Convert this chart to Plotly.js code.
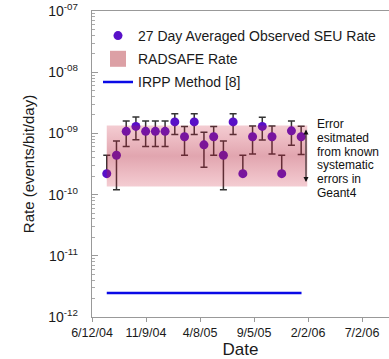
<!DOCTYPE html>
<html>
<head>
<meta charset="utf-8">
<script src="https://cdn.plot.ly/plotly-3.0.1.min.js"></script>
<style>html,body{margin:0;padding:0;background:#fff;}#chart{width:389px;height:359px;}</style>
</head>
<body>
<div id="chart"></div>
<script>
// ---- data ----
const obsDates = ['2004-07-23','2004-08-19','2004-09-15','2004-10-12','2004-11-08','2004-12-05','2005-01-01',
  '2005-01-28','2005-02-24','2005-03-23','2005-04-19','2005-05-16','2005-06-12','2005-07-09','2005-08-05',
  '2005-09-01','2005-09-28','2005-10-25','2005-11-21','2005-12-18','2006-01-14'];
const obsRate = [2.2e-10,4.4e-10,1.08e-9,1.3e-9,1.08e-9,1.08e-9,1.08e-9,1.54e-9,8.8e-10,1.54e-9,6.5e-10,
  8.8e-10,4.4e-10,1.54e-9,2.2e-10,8.8e-10,1.3e-9,8.8e-10,2.2e-10,1.1e-9,8.8e-10];
const obsErrPlus = [2.2e-10,3.1e-10,5.2e-10,5.5e-10,5.2e-10,5.2e-10,5.2e-10,5.6e-10,4.2e-10,5.6e-10,3.9e-10,
  4.2e-10,3.1e-10,5.6e-10,2.2e-10,4.4e-10,5.4e-10,4.4e-10,2.2e-10,5.0e-10,4.3e-10];
const obsErrMinus = [0,3.2e-10,4.7e-10,5.1e-10,4.7e-10,4.7e-10,4.7e-10,5.8e-10,4.4e-10,5.8e-10,3.7e-10,
  4.4e-10,3.2e-10,5.8e-10,0,4.2e-10,5.2e-10,4.2e-10,0,4.6e-10,4.3e-10];
const radsafeDates = ['2004-07-23','2006-01-31'];
const radsafeLow = 1.35e-10;
const radsafeHigh = 1.35e-9;
const irppDates = ['2004-07-23','2006-01-15'];
const irppRate = [2.47e-12,2.47e-12];
const xTickVals = ['2004-06-12','2004-11-09','2005-04-08','2005-09-05','2006-02-02','2006-07-02'];
const xTickText = ['6/12/04','11/9/04','4/8/05','9/5/05','2/2/06','7/2/06'];
const yTickVals = [1e-12,1e-11,1e-10,1e-9,1e-8,1e-7];
const yTickText = ['10<sup>-12</sup>','10<sup>-11</sup>','10<sup>-10</sup>','10<sup>-09</sup>','10<sup>-08</sup>','10<sup>-07</sup>'];
const noteLines = ['Error','esitmated','from known','systematic','errors in','Geant4'];
const seriesNames = ['27 Day Averaged Observed SEU Rate','RADSAFE Rate','IRPP Method [8]'];

// ---- layout geometry (pixels) ----
const W = 389, H = 359, L = 92, T = 11, B = 42;
const plotH = H - T - B, plotW = W - L;
const py = px => (H - B - px) / plotH;   // pixel y -> paper y
const pxx = px => (px - L) / plotW;       // pixel x -> paper x
const FONT = 'Liberation Sans, Arial, sans-serif';

const traces = [
  {
    type: 'scatter', mode: 'markers', name: seriesNames[0], legendgroup: 'a',
    x: obsDates, y: obsRate,
    marker: {size: 9, color: '#5810c8'},
    error_y: {type: 'data', symmetric: false, array: obsErrPlus, arrayminus: obsErrMinus,
      color: '#333333', thickness: 1.5, width: 3.5}
  },
  {
    type: 'scatter', mode: 'none', name: seriesNames[1], legendgroup: 'b', showlegend: false,
    x: [radsafeDates[0], radsafeDates[1], radsafeDates[1], radsafeDates[0], radsafeDates[0]],
    y: [radsafeLow, radsafeLow, radsafeHigh, radsafeHigh, radsafeLow],
    fill: 'toself',
    fillcolor: 'rgba(195,35,60,0.3)',
    fillgradient: {type: 'vertical', colorscale: [
      [0, 'rgba(205,35,60,0.23)'], [0.5, 'rgba(180,30,55,0.4)'], [1, 'rgba(205,35,60,0.23)']]}
  },
  {
    // legend swatch for the RADSAFE band
    type: 'scatter', mode: 'markers', name: seriesNames[1], legendgroup: 'b',
    x: [null], y: [null],
    marker: {symbol: 'square', size: 18, color: 'rgba(220,160,165,1)'}
  },
  {
    type: 'scatter', mode: 'lines', name: seriesNames[2], legendgroup: 'c',
    x: irppDates, y: irppRate,
    line: {color: '#0a0ae6', width: 2.5}
  }
];

const annotations = noteLines.map((t, i) => ({
  xref: 'paper', yref: 'paper', x: pxx(315), y: py(124 + i * 13.8),
  xanchor: 'left', yanchor: 'middle', text: t, showarrow: false,
  font: {family: FONT, size: 12, color: '#111'}
}));
annotations.push({
  xref: 'paper', yref: 'paper', x: pxx(306), y: py(182), ax: pxx(306), ay: py(128),
  axref: 'paper', ayref: 'paper', text: '', showarrow: true,
  arrowside: 'start+end', arrowhead: 2, startarrowhead: 2, arrowsize: 1, startarrowsize: 1,
  arrowwidth: 1, arrowcolor: '#111'
});

const layout = {
  width: W, height: H,
  margin: {l: L, r: 0, t: T, b: B, pad: 0},
  paper_bgcolor: '#fff', plot_bgcolor: '#fff',
  font: {family: FONT, size: 12, color: '#1a1a1a'},
  showlegend: true,
  legend: {x: pxx(98), y: py(20), xanchor: 'left', yanchor: 'top', bgcolor: 'rgba(0,0,0,0)',
    font: {family: FONT, size: 14, color: '#1a1a1a'}, traceorder: 'grouped', tracegroupgap: 2,
    itemwidth: 30, itemsizing: 'trace'},
  xaxis: {
    type: 'date', range: ['2004-06-12', '2006-09-15'],
    tickmode: 'array', tickvals: xTickVals, ticktext: xTickText,
    ticks: 'outside', ticklen: 4, tickcolor: '#999', showgrid: false, zeroline: false,
    showline: true, linecolor: '#999', linewidth: 1.2, mirror: true,
    tickfont: {family: FONT, size: 12.5, color: '#1a1a1a'},
    title: {text: 'Date', font: {family: FONT, size: 17, color: '#1a1a1a'}, standoff: 8}
  },
  yaxis: {
    type: 'log', range: [-12, -7],
    tickmode: 'array', tickvals: yTickVals, ticktext: yTickText,
    ticks: 'inside', ticklen: 6, tickcolor: '#999', showgrid: false, zeroline: false,
    showline: true, linecolor: '#999', linewidth: 1.2,
    minor: {dtick: 'D1', ticks: 'inside', ticklen: 3, tickcolor: '#aaa', showgrid: false},
    tickfont: {family: FONT, size: 14, color: '#1a1a1a'},
    ticklabelstandoff: 10,
    title: {text: 'Rate (events/bit/day)', font: {family: FONT, size: 15, color: '#1a1a1a'}, standoff: 10}
  },
  annotations: annotations
};

Plotly.newPlot('chart', traces, layout, {displayModeBar: false, staticPlot: true});
</script>
</body>
</html>
